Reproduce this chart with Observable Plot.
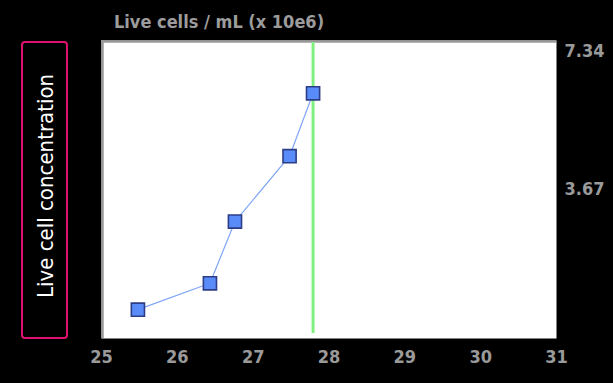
<!DOCTYPE html>
<html>
<head>
<meta charset="utf-8">
<script src="https://cdn.jsdelivr.net/npm/d3@7"></script>
<script src="https://cdn.jsdelivr.net/npm/@observablehq/plot@0.6"></script>
<style>
  html, body { margin: 0; padding: 0; background: #000; }
  #wrap { position: relative; width: 613px; height: 383px; overflow: hidden; background: #000; }
  #title { position: absolute; left: 114px; top: 11px; font: bold 18px "DejaVu Sans Condensed"; font-stretch: condensed; color: #9c9c9c; white-space: nowrap; line-height: 21px; }
  #side { position: absolute; left: 21px; top: 41px; width: 43px; height: 294px; border: 2px solid #e0116e; border-radius: 4px; box-sizing: content-box; }
  #side span { position: absolute; left: 50%; top: 50%; transform: translate(-50%, -50%) translateY(-4px) rotate(-90deg); font: 22px "DejaVu Sans Condensed"; font-stretch: condensed; color: #fff; white-space: nowrap; }
</style>
</head>
<body>
<div id="wrap">
  <div id="title">Live cells / mL (x 10e6)</div>
  <div id="side"><span>Live cell concentration</span></div>
</div>
<script>
const times = [25.48, 26.43, 26.76, 27.48, 27.79];
const liveCells = [0.71, 1.36, 2.88, 4.49, 6.04];
const markerTime = [27.79];
const xTicks = [25, 26, 27, 28, 29, 30, 31];
const yTicksMid = [3.67];
const yTicksTop = [7.34];

const data = times.map((t, i) => ({t, v: liveCells[i]}));

const labelStyle = {fill: "#9a9a9a", fontSize: 18, fontWeight: "bold", fontFamily: "DejaVu Sans Condensed", fontStretch: "condensed"};

const chart = Plot.plot({
  width: 613,
  height: 383,
  marginLeft: 101,
  marginRight: 57,
  marginTop: 40,
  marginBottom: 45,
  style: {background: "#000", overflow: "visible"},
  x: {domain: [25, 31], axis: null},
  y: {domain: [0, 7.34], axis: null},
  marks: [
    Plot.frame({fill: "#fff", stroke: null}),
    Plot.ruleY([7.34], {stroke: "#9a9a9a", strokeWidth: 2.5, dy: 1}),
    Plot.ruleX([25], {stroke: "#9a9a9a", strokeWidth: 2.5, dx: 1}),
    Plot.ruleX(markerTime, {stroke: "#7ff07f", strokeWidth: 3, insetBottom: 5, insetTop: 2}),
    Plot.line(data, {x: "t", y: "v", stroke: "#7fa6f7", strokeWidth: 1.2}),
    Plot.dot(data, {x: "t", y: "v", symbol: "square", r: 7.4, fill: "#5a8cf9", stroke: "#2c3d86", strokeWidth: 1.6}),
    Plot.text(xTicks, {x: d => d, frameAnchor: "bottom", dy: 19, lineAnchor: "middle", text: d => String(d), ...labelStyle}),
    Plot.text(yTicksMid, {y: d => d, frameAnchor: "right", dx: 8, textAnchor: "start", text: d => d.toFixed(2), ...labelStyle}),
    Plot.text(yTicksTop, {y: d => d, frameAnchor: "right", dx: 8, dy: 11, textAnchor: "start", text: d => d.toFixed(2), ...labelStyle})
  ]
});
document.getElementById("wrap").prepend(chart);
chart.style.position = "absolute";
chart.style.left = "0px";
chart.style.top = "0px";
</script>
</body>
</html>
